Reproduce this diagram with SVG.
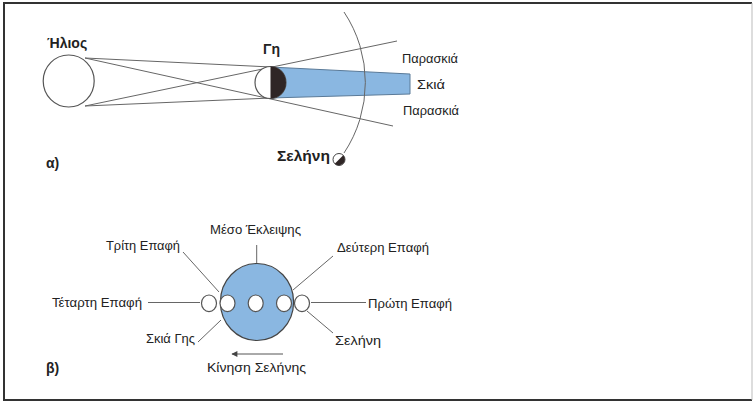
<svg xmlns="http://www.w3.org/2000/svg" width="755" height="403" viewBox="0 0 755 403">
  <style>
    .lbl { font-family: "Liberation Sans", Arial, sans-serif; fill: #222; }
    .b { font-weight: bold; font-size: 14px; }
    .r { font-size: 12px; }
    .ln { stroke: #666; stroke-width: 1; fill: none; }
    .ring { stroke: #555; stroke-width: 1.2; fill: #fff; }
    .shade { fill: #8ab7e1; stroke: #5a7a98; stroke-width: 1; }
  </style>
  <defs>
    <marker id="arrowHead" viewBox="0 0 10 10" refX="9" refY="5" markerWidth="7" markerHeight="6" markerUnits="userSpaceOnUse" orient="auto">
      <path d="M0,0 L10,5 L0,10 Z" fill="#444"/>
    </marker>
  </defs>

  <rect x="0" y="0" width="755" height="403" fill="#fff"/>

  <!-- frame -->
  <g id="frame">
    <line x1="3" y1="3" x2="752" y2="3" stroke="#333" stroke-width="2"/>
    <line x1="4" y1="3" x2="4" y2="400" stroke="#333" stroke-width="2"/>
    <line x1="3" y1="400" x2="752" y2="400" stroke="#333" stroke-width="2"/>
    <line x1="752" y1="3" x2="752" y2="400" stroke="#bbb" stroke-width="1"/>
  </g>

  <!-- (a) geometry of the eclipse -->
  <g id="umbra">
    <polygon class="shade" points="270,67 410,74 410,94 270,98"/>
  </g>

  <g id="connectors">
    <!-- sun to earth rays -->
    <line class="ln" x1="85" y1="58" x2="271" y2="67"/>
    <line class="ln" x1="85" y1="106" x2="271" y2="98"/>
    <line class="ln" x1="85" y1="58" x2="393" y2="126"/>
    <line class="ln" x1="85" y1="106" x2="397" y2="41"/>
    <!-- lunar orbit -->
    <path class="ln" d="M344,12 A127,127 0 0 1 344,153"/>

    <!-- (b) leader lines -->
    <line class="ln" x1="256.7" y1="245" x2="256.7" y2="263"/>
    <line class="ln" x1="183" y1="252" x2="219" y2="292"/>
    <line class="ln" x1="148" y1="302.5" x2="200" y2="302.5"/>
    <line class="ln" x1="198" y1="342" x2="221" y2="320"/>
    <line class="ln" x1="333" y1="256" x2="293" y2="290"/>
    <line class="ln" x1="311" y1="302.5" x2="366" y2="302.5"/>
    <line class="ln" x1="307" y1="311" x2="333" y2="333"/>
    <!-- direction of lunar motion -->
    <line x1="283" y1="354" x2="232" y2="354" stroke="#555" stroke-width="1" marker-end="url(#arrowHead)"/>
  </g>

  <g id="sun">
    <ellipse class="ring" cx="68.7" cy="81" rx="25.5" ry="26"/>
    <text class="lbl b" x="47" y="48">Ήλιος</text>
  </g>

  <g id="earth">
    <ellipse class="ring" cx="270.5" cy="82.5" rx="15.5" ry="16"/>
    <path d="M270.5,66.5 A15.5,16 0 0 1 270.5,98.5 Z" fill="#2f2525"/>
    <text class="lbl b" x="263" y="54">Γη</text>
  </g>

  <g id="penumbra-labels">
    <text class="lbl r" x="402" y="63" textLength="56" lengthAdjust="spacingAndGlyphs">Παρασκιά</text>
    <text class="lbl r" x="417" y="89" textLength="28" lengthAdjust="spacingAndGlyphs">Σκιά</text>
    <text class="lbl r" x="403" y="115" textLength="56" lengthAdjust="spacingAndGlyphs">Παρασκιά</text>
  </g>

  <g id="moon-a">
    <circle cx="339" cy="159.5" r="6" fill="#fff" stroke="#444" stroke-width="1"/>
    <path d="M343.24,155.26 A6,6 0 0 1 334.76,163.74 Z" fill="#2f2525"/>
    <text class="lbl b" x="277" y="161" textLength="53" lengthAdjust="spacingAndGlyphs">Σελήνη</text>
  </g>

  <text class="lbl b" x="46" y="168">α)</text>

  <!-- (b) contacts of a lunar eclipse -->
  <g id="earth-shadow">
    <ellipse cx="257" cy="302" rx="36.6" ry="38.5" fill="#8ab7e1" stroke="#444" stroke-width="1.2"/>
  </g>

  <g id="moon-positions">
    <ellipse class="ring" cx="209" cy="303.3" rx="7.5" ry="8.3"/>
    <ellipse class="ring" cx="227.5" cy="303.3" rx="7.5" ry="8.3"/>
    <ellipse class="ring" cx="255.7" cy="303.3" rx="7.5" ry="8.3"/>
    <ellipse class="ring" cx="284" cy="303.3" rx="7.5" ry="8.3"/>
    <ellipse class="ring" cx="302" cy="303.3" rx="7.5" ry="8.3"/>
  </g>

  <g id="label-mid">
    <text class="lbl r" x="210" y="234" textLength="91" lengthAdjust="spacingAndGlyphs">Μέσο Έκλειψης</text>
  </g>
  <g id="label-third">
    <text class="lbl r" x="106" y="250" textLength="74" lengthAdjust="spacingAndGlyphs">Τρίτη Επαφή</text>
  </g>
  <g id="label-fourth">
    <text class="lbl r" x="52" y="307" textLength="90" lengthAdjust="spacingAndGlyphs">Τέταρτη Επαφή</text>
  </g>
  <g id="label-umbra">
    <text class="lbl r" x="146" y="343" textLength="49" lengthAdjust="spacingAndGlyphs">Σκιά Γης</text>
  </g>
  <g id="label-second">
    <text class="lbl r" x="337" y="252" textLength="92" lengthAdjust="spacingAndGlyphs">Δεύτερη Επαφή</text>
  </g>
  <g id="label-first">
    <text class="lbl r" x="368" y="308" textLength="84" lengthAdjust="spacingAndGlyphs">Πρώτη Επαφή</text>
  </g>
  <g id="label-moon">
    <text class="lbl r" x="335" y="345" textLength="46" lengthAdjust="spacingAndGlyphs">Σελήνη</text>
  </g>
  <g id="label-motion">
    <text class="lbl r" x="207" y="372" textLength="99" lengthAdjust="spacingAndGlyphs">Κίνηση Σελήνης</text>
  </g>

  <text class="lbl b" x="46" y="373">β)</text>
</svg>
